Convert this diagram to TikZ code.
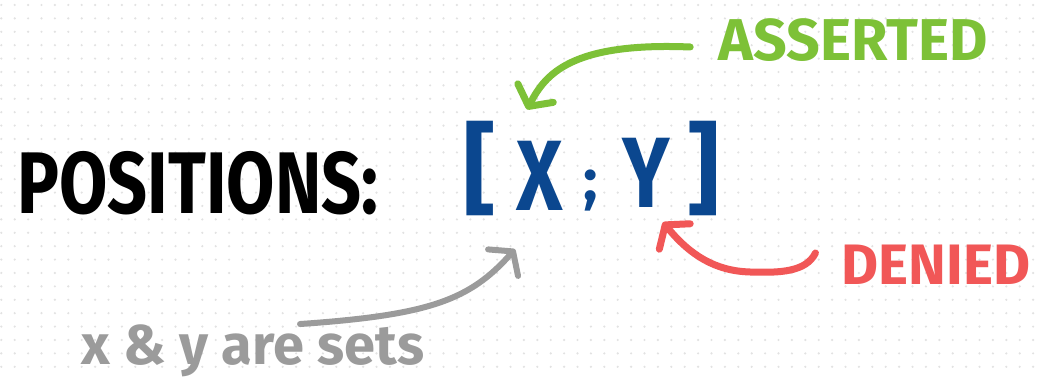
\documentclass[tikz,border=0pt]{standalone}
\usepackage{fontspec}
\setmainfont{Fira Sans}
\usepackage{xcolor}
\usepackage{tikz}
\usetikzlibrary{arrows.meta}
\usetikzlibrary{calc}
\definecolor{dotgray}{RGB}{226,226,226}
\definecolor{pairblue}{RGB}{11,71,143}
\definecolor{assertgreen}{RGB}{125,193,55}
\definecolor{denyred}{RGB}{241,87,87}
\definecolor{notegray}{RGB}{155,155,155}
\tikzstyle{word}=[inner sep=0pt, font=\bfseries\fontsize{59pt}{64pt}\selectfont]
\tikzstyle{bluebit}=[inner sep=0pt, text=pairblue, anchor=base, font=\bfseries\fontsize{100pt}{110pt}\selectfont]
\tikzstyle{pointer}=[line width=7pt, line cap=round, -{Straight Barb[length=15pt, width=40pt, round]}]

\begin{document}
\begin{tikzpicture}[x=1pt, y=-1pt]

% dotted paper
\fill[white] (0,0) rectangle (1042,379);
\useasboundingbox (0,0) rectangle (1042,379);
\foreach \i in {0,...,77}
  \foreach \j in {0,...,27}
    \fill[dotgray] (1.3+13.4*\i, 5+13.4*\j) circle (1.2pt);

% title
\node[word, font=\bfseries\fontsize{70pt}{80pt}\selectfont, yscale=1.25] (title) at (198,183) {POSITIONS:};

% [X;Y]
\node[bluebit] (lbr) at (480,204) {[};
\node[bluebit, xscale=.8] (xvar) at (540,211) {X};
\node[bluebit, font=\bfseries\fontsize{60pt}{66pt}\selectfont] (semi) at (591,201) {;};
\node[bluebit, xscale=.8] (yvar) at (646,208) {Y};
\node[bluebit] (rbr) at (704,204) {]};

% labels
\node[word, text=assertgreen] (asserted) at (853,40) {ASSERTED};
\node[word, text=denyred, font=\bfseries\fontsize{57pt}{62pt}\selectfont] (denied) at (936,265) {DENIED};
\node[word, text=notegray, font=\bfseries\fontsize{56pt}{62pt}\selectfont, anchor=base] (note) at (253,365) {x \& y are sets};

% arrows
\draw[pointer, assertgreen] ($(asserted.west)+(-28,7)$) .. controls (570,42) and (545,75) .. ($(xvar.north)+(-13,-32)$); % asserted -> X
\draw[pointer, denyred] ($(denied.west)+(-26,-12)$) .. controls (806,272) and (780,273) .. (750,272)
  .. controls (715,271) and (690,255) .. ($(yvar.south)+(17,14)$); % denied -> Y
\draw[pointer, notegray, line width=6pt] ($(note.north)+(47,-1)$) .. controls (430,315) and (470,300) .. ($(xvar.south)+(-25,38)$); % note -> X

\end{tikzpicture}
\end{document}
